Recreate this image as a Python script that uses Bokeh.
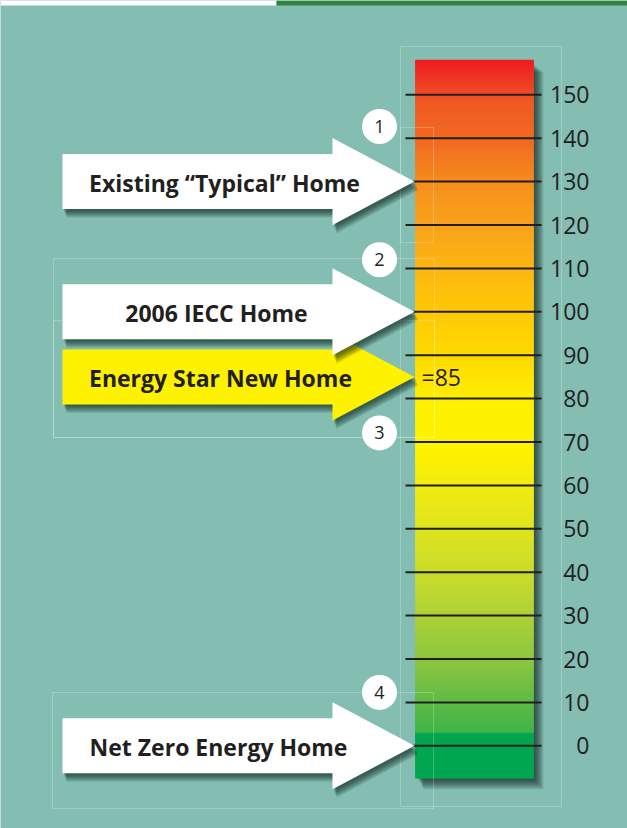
import numpy as np
from bokeh.plotting import figure
from bokeh.models import Range1d, ColumnDataSource
from bokeh.core.properties import value
from bokeh.embed import file_html
from bokeh.resources import INLINE

# ---------------- data ----------------
tick_values = [0, 10, 20, 30, 40, 50, 60, 70, 80, 90, 100, 110, 120, 130, 140, 150]
tick_labels = ["0", "10", "20", "30", "40", "50", "60", "70", "80", "90",
               "100", "110", "120", "130", "140", "150"]
arrow_labels = ["Existing \u201cTypical\u201d Home", "2006 IECC Home",
                "Energy Star New Home", "Net Zero Energy Home"]
arrow_values = [130, 100, 85, 0]
arrow_colors = ["#ffffff", "#ffffff", "#fff200", "#ffffff"]
marker_numbers = ["1", "2", "3", "4"]
marker_values = [142.7, 112.0, 72.1, 12.3]
note_text = "=85"
note_value = 85
scale_top = 158
scale_bottom = -7.5
gradient_values = [-7.5, 2.9, 3.0, 8, 18, 28, 38, 48, 58, 68, 78, 88, 98,
                   108, 118, 128, 138, 148, 158]
gradient_colors = ["#00a651", "#00a651", "#3fb449", "#55b947", "#86c440",
                   "#a7cf39", "#c5da2d", "#dbe221", "#eeea15", "#fff200",
                   "#fff200", "#ffdd00", "#ffcc05", "#fdbb10", "#faa61a",
                   "#f7941d", "#f26f21", "#f15a24", "#ed1c24"]

# ---------------- layout helpers ----------------
W, H = 627, 828
PX = 4.34          # pixels per unit
ZERO = 745.3       # pixel row of value 0
YMAX = ZERO / PX
YMIN = -(H - ZERO) / PX


def dv(px):
    return px / PX


def py(row):
    return (ZERO - row) / PX


BG = "#84beb2"
INK = "#231f20"
SHADOW = "#0b1f1c"

p = figure(width=W, height=H, output_backend="svg", toolbar_location=None,
           x_range=Range1d(0, W), y_range=Range1d(YMIN, YMAX),
           min_border=0, min_border_left=0, min_border_right=0,
           min_border_top=0, min_border_bottom=0)
p.background_fill_color = BG
p.border_fill_color = BG
p.outline_line_color = None
p.axis.visible = False
p.grid.visible = False

# top strip
p.quad(left=[0], right=[276], top=[YMAX], bottom=[py(5)], fill_color="#ffffff", line_color=None)
p.quad(left=[276], right=[W], top=[YMAX], bottom=[py(5)], fill_color="#2e843f", line_color=None)

# bar shadow
BL, BR = 415, 533
for i in range(1, 11):
    p.quad(left=[BL + 2 + i * 0.6], right=[BR + i * 1.0], top=[scale_top - dv(4 + i * 0.8)],
           bottom=[scale_bottom - dv(i * 1.1)], fill_color=SHADOW, fill_alpha=0.1, line_color=None)

# gradient bar
def hex2rgb(h):
    h = h.lstrip("#")
    return [int(h[k:k + 2], 16) for k in (0, 2, 4)]

rgb = np.array([hex2rgb(c) for c in gradient_colors], dtype=float)
step = 0.5
starts = np.arange(scale_bottom, scale_top, step)
mids = starts + step / 2
cols = []
for m in mids:
    r = np.interp(m, gradient_values, rgb[:, 0])
    g = np.interp(m, gradient_values, rgb[:, 1])
    b = np.interp(m, gradient_values, rgb[:, 2])
    cols.append("#%02x%02x%02x" % (int(round(r)), int(round(g)), int(round(b))))
tops = np.minimum(starts + step * 1.5, scale_top)
src = ColumnDataSource(dict(bottom=starts, top=tops, color=cols))
p.quad(left=BL, right=BR, bottom="bottom", top="top", fill_color="color",
       line_color="color", line_width=0.6, source=src)

# faint layout boxes
boxes = [(400, 46, 561, 806), (53, 258, 434, 437), (53, 320, 434, 437),
         (52, 692, 433, 808), (400, 127, 433, 242)]
for (x0, y0, x1, y1) in boxes:
    p.line(x=[x0, x1, x1, x0, x0], y=[py(y0), py(y0), py(y1), py(y1), py(y0)],
           line_color="#ffffff", line_alpha=0.22, line_width=1)

# tick lines and labels
p.segment(x0=405, x1=541, y0=tick_values, y1=tick_values, line_color=INK, line_width=2)
p.text(x=[589] * len(tick_values), y=tick_values, text=tick_labels,
       text_font=value("Open Sans"), text_font_size="23px", text_color=INK,
       text_align="right", text_baseline="middle")

# arrows
bx0, hx, tipx = 62, 332, 414
bh, hh = dv(27.5), dv(43.5)


def arrow_xy(t, dx=0.0, dy=0.0):
    xs = [bx0, hx, hx, tipx, hx, hx, bx0]
    ys = [t + bh, t + bh, t + hh, t, t - hh, t - bh, t - bh]
    return [x + dx for x in xs], [y - dv(dy) for y in ys]


text_x = [224, 216, 220, 218]
order = [0, 2, 1, 3]
for k in order:
    t = arrow_values[k]
    for i in range(1, 8):
        xs, ys = arrow_xy(t, dx=1 + i * 0.45, dy=1 + i * 1.05)
        p.patch(xs, ys, fill_color=SHADOW, fill_alpha=0.12, line_color=None)
    xs, ys = arrow_xy(t)
    p.patch(xs, ys, fill_color=arrow_colors[k], line_color=None)
    p.text(x=[text_x[k]], y=[t - dv(1)], text=[arrow_labels[k]],
           text_font=value("Open Sans"), text_font_style="bold", text_font_size="23px",
           text_color=INK, text_align="center", text_baseline="middle")

# note
p.text(x=[421], y=[note_value], text=[note_text], text_font=value("Open Sans"),
       text_font_size="23px", text_color=INK, text_align="left", text_baseline="middle")

# numbered circles
p.circle(x=[379] * len(marker_values), y=marker_values, radius=17.5,
         fill_color="#ffffff", line_color=None)
p.text(x=[379] * len(marker_values), y=marker_values, text=marker_numbers,
       text_font=value("Open Sans"), text_font_size="18px", text_color=INK,
       text_align="center", text_baseline="middle")

open("out.html", "w").write(file_html(p, INLINE))
